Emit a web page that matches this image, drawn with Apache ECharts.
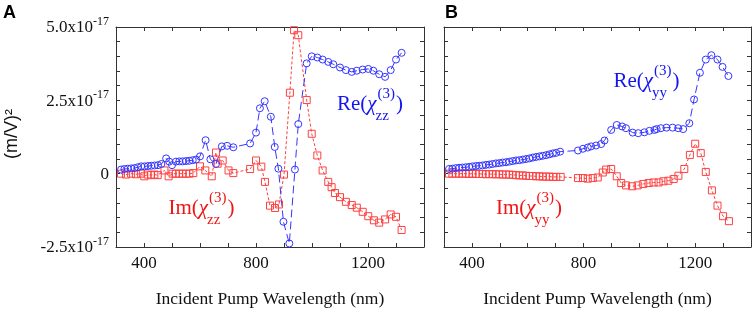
<!DOCTYPE html>
<html>
<head>
<meta charset="utf-8">
<script src="https://cdn.jsdelivr.net/npm/echarts@6/dist/echarts.min.js"></script>
<style>
  html, body { margin: 0; padding: 0; background: #fff; }
  #chart { width: 754px; height: 313px; }
</style>
</head>
<body>
<div id="chart"></div>
<script>
// values in units of 1e-17 (m/V)^2
const reZZ_x = [318, 330, 342, 354, 366, 378, 390, 402, 414, 426, 438, 450, 462, 479, 490, 500, 514, 526, 538, 550, 562, 574, 586, 600, 620, 637, 657, 678, 697, 719, 779, 800, 814, 831, 853, 867, 880, 898, 919, 939, 951, 981, 999, 1019, 1038, 1058, 1076, 1100, 1121, 1142, 1160, 1181, 1201, 1219, 1240, 1261, 1281, 1300, 1320];
const reZZ_y = [0.14, 0.16, 0.17, 0.18, 0.19, 0.22, 0.25, 0.25, 0.26, 0.27, 0.28, 0.29, 0.33, 0.52, 0.41, 0.29, 0.41, 0.42, 0.42, 0.43, 0.44, 0.46, 0.48, 0.59, 1.14, 0.49, 0.33, 0.93, 0.95, 0.90, 1.03, 1.40, 2.23, 2.47, 1.94, 0.91, 0.17, -1.64, -2.38, 0.14, 1.69, 3.76, 4.00, 3.96, 3.89, 3.81, 3.73, 3.62, 3.53, 3.47, 3.51, 3.55, 3.57, 3.51, 3.39, 3.30, 3.53, 3.89, 4.12];

const imZZ_x = [318, 336, 354, 371, 389, 401, 413, 425, 437, 449, 473, 488, 502, 514, 526, 538, 550, 562, 576, 600, 619, 642, 657, 663, 681, 702, 719, 779, 800, 819, 832, 850, 868, 882, 900, 921, 936, 951, 981, 999, 1019, 1038, 1058, 1070, 1082, 1100, 1121, 1142, 1160, 1181, 1201, 1221, 1240, 1261, 1281, 1300, 1320];
const imZZ_y = [0.00, -0.03, 0.00, -0.02, 0.00, -0.09, -0.03, -0.05, -0.03, -0.05, 0.11, -0.09, 0.00, 0.00, 0.00, 0.00, 0.00, 0.00, 0.02, 0.25, 0.11, -0.09, 0.72, 0.34, 0.45, 0.11, 0.02, 0.16, 0.45, 0.24, -0.28, -1.09, -1.17, -1.05, -0.03, 2.76, 4.89, 4.72, 2.51, 1.36, 0.62, 0.11, -0.28, -0.46, -0.66, -0.80, -0.96, -1.07, -1.16, -1.30, -1.45, -1.59, -1.67, -1.56, -1.39, -1.47, -1.92];

const reYY_x = [318, 330, 342, 354, 366, 378, 390, 402, 414, 426, 438, 450, 462, 474, 486, 498, 510, 522, 534, 546, 558, 570, 582, 594, 606, 618, 630, 642, 654, 666, 678, 690, 702, 716, 780, 798, 815, 827, 845, 863, 875, 899, 919, 938, 952, 976, 996, 1018, 1036, 1054, 1062, 1077, 1097, 1119, 1139, 1157, 1179, 1196, 1217, 1238, 1258, 1280, 1298, 1319];
const reYY_y = [0.16, 0.17, 0.19, 0.20, 0.21, 0.22, 0.23, 0.25, 0.26, 0.27, 0.28, 0.30, 0.31, 0.33, 0.35, 0.36, 0.38, 0.39, 0.41, 0.43, 0.45, 0.46, 0.48, 0.50, 0.52, 0.55, 0.57, 0.59, 0.61, 0.63, 0.66, 0.69, 0.71, 0.75, 0.79, 0.85, 0.89, 0.93, 0.96, 1.01, 1.13, 1.49, 1.66, 1.61, 1.55, 1.40, 1.38, 1.41, 1.46, 1.49, 1.52, 1.55, 1.57, 1.57, 1.55, 1.52, 1.72, 2.53, 3.44, 3.89, 4.04, 3.89, 3.64, 3.33];

const imYY_x = [318, 330, 342, 354, 366, 378, 390, 402, 414, 426, 438, 450, 462, 474, 486, 498, 510, 522, 534, 546, 558, 570, 582, 594, 606, 618, 630, 642, 654, 666, 678, 690, 702, 718, 780, 798, 815, 833, 851, 869, 881, 899, 919, 935, 952, 974, 994, 1014, 1033, 1051, 1069, 1086, 1104, 1123, 1140, 1161, 1181, 1200, 1220, 1238, 1260, 1280, 1300, 1321];
const imYY_y = [0.00, 0.00, 0.00, 0.00, 0.00, 0.00, -0.01, 0.00, -0.01, -0.01, -0.01, -0.02, -0.01, -0.02, -0.02, -0.02, -0.03, -0.03, -0.03, -0.04, -0.05, -0.06, -0.06, -0.07, -0.08, -0.08, -0.09, -0.09, -0.10, -0.10, -0.10, -0.11, -0.11, -0.11, -0.15, -0.15, -0.17, -0.15, -0.13, 0.04, 0.14, 0.16, -0.09, -0.32, -0.40, -0.43, -0.40, -0.35, -0.32, -0.30, -0.30, -0.26, -0.24, -0.18, -0.07, 0.16, 0.64, 1.02, 0.70, 0.06, -0.57, -1.09, -1.45, -1.62];

const xTickLabels = [400, 800, 1200];
const yTickLabels = [-2.5, 0, 2.5, 5.0];

const BLUE = '#3535ff';
const RED = '#ff4040';
const SERIF = '"Liberation Serif", "Times New Roman", serif';
const SANS = '"Liberation Sans", Arial, sans-serif';
const AXIS = '#333';

const chart = echarts.init(document.getElementById('chart'));

function lineSeries(xs, ys, idx, color, symbol, dash) {
  return {
    type: 'line',
    xAxisIndex: idx * 2,
    yAxisIndex: idx * 2,
    data: xs.map((x, i) => [x, ys[i]]),
    symbol: symbol,
    symbolSize: 7,
    lineStyle: { color: color, width: 1, type: dash },
    itemStyle: { color: 'rgba(0,0,0,0)', borderColor: color, borderWidth: 1 },
    emphasis: { disabled: true },
    animation: false,
  };
}

function xAxes(grid) {
  const base = {
    type: 'value', gridIndex: grid, min: 300, max: 1400, interval: 100,
    axisLine: { onZero: false, lineStyle: { color: AXIS, width: 1 } },
    axisTick: { inside: true, length: 4, lineStyle: { color: AXIS } },
    splitLine: { show: false },
  };
  return [
    Object.assign({}, base, {
      position: 'bottom',
      axisLabel: {
        formatter: (v) => (xTickLabels.includes(v) ? String(v) : ''),
        fontFamily: SERIF, fontSize: 17, color: '#111', margin: 8,
      },
      name: 'Incident Pump Wavelength (nm)',
      nameLocation: 'middle',
      nameGap: 43,
      nameTextStyle: { fontFamily: SERIF, fontSize: 17.5, color: '#111' },
    }),
    Object.assign({}, base, { position: 'top', axisLabel: { show: false } }),
  ];
}

function yAxes(grid, labels) {
  const base = {
    type: 'value', gridIndex: grid, min: -2.5, max: 5, interval: 0.5,
    axisLine: { show: true, onZero: false, lineStyle: { color: AXIS, width: 1 } },
    axisTick: { show: true, inside: true, length: 4, lineStyle: { color: AXIS } },
    splitLine: { show: false },
  };
  return [
    Object.assign({}, base, {
      position: 'left',
      axisLabel: {
        show: labels,
        margin: 7,
        formatter: (v) => {
          if (!yTickLabels.some((t) => Math.abs(t - v) < 1e-9)) return '';
          if (Math.abs(v) < 1e-9) return '{a|0}';
          return '{a|' + v.toFixed(1) + 'x10}{b|-17}';
        },
        rich: {
          a: { fontFamily: SERIF, fontSize: 17, color: '#111', verticalAlign: 'bottom', lineHeight: 19 },
          b: { fontFamily: SERIF, fontSize: 12, color: '#111', verticalAlign: 'bottom', lineHeight: 13, padding: [0, 0, 9, 0] },
        },
      },
    }),
    Object.assign({}, base, { position: 'right', axisLabel: { show: false } }),
  ];
}

// chi label: head(χ with stacked superscript/subscript, then ")"
const measureCtx = document.createElement('canvas').getContext('2d');
function textWidth(t, font) {
  measureCtx.font = font;
  return measureCtx.measureText(t).width;
}
function chiLabel(x, y, color, head, sub) {
  const fMain = '21px ' + SERIF;
  const fChi = 'italic 21px ' + SERIF;
  const fSmall = '15px ' + SERIF;
  const w1 = textWidth(head + '(', fMain);
  const w2 = textWidth('χ', fChi);
  const wSup = textWidth('(3)', fSmall);
  const wSub = textWidth(sub, fSmall);
  const xs = x + w1 + w2 + 1;
  const t = (tx, ty, text, font) => ({
    type: 'text', x: tx, y: ty, silent: true,
    style: { text: text, font: font, fill: color, textAlign: 'left', textVerticalAlign: 'middle' },
  });
  return [
    t(x, y, head + '(', fMain),
    t(x + w1, y, 'χ', fChi),
    t(xs, y - 10, '(3)', fSmall),
    t(xs - 2, y + 12, sub, fSmall),
    t(xs + Math.max(wSup, wSub) + 1, y, ')', fMain),
  ];
}

const graphics = [
  { type: 'text', x: 3, y: 13, style: { text: 'A', font: 'bold 18px ' + SANS, fill: '#000', textVerticalAlign: 'middle' } },
  { type: 'text', x: 445, y: 13, style: { text: 'B', font: 'bold 18px ' + SANS, fill: '#000', textVerticalAlign: 'middle' } },
  { type: 'text', x: 12, y: 134, rotation: Math.PI / 2,
    style: { text: '(m/V)²', font: '18px ' + SANS, fill: '#111', textAlign: 'center', textVerticalAlign: 'middle' } },
].concat(
  chiLabel(337, 104, '#1515f0', 'Re', 'zz'),
  chiLabel(168.5, 208, '#f01515', 'Im', 'zz'),
  chiLabel(613.5, 81, '#1515f0', 'Re', 'yy'),
  chiLabel(496, 208, '#f01515', 'Im', 'yy')
);

chart.setOption({
  animation: false,
  grid: [
    { left: 116, top: 27, width: 308, height: 221 },
    { left: 444, top: 27, width: 308, height: 221 },
  ],
  xAxis: xAxes(0).concat(xAxes(1)),
  yAxis: yAxes(0, true).concat(yAxes(1, false)),
  series: [
    lineSeries(imZZ_x, imZZ_y, 0, RED, 'rect', [3, 2]),
    lineSeries(reZZ_x, reZZ_y, 0, BLUE, 'circle', [8, 4]),
    lineSeries(imYY_x, imYY_y, 1, RED, 'rect', [3, 2]),
    lineSeries(reYY_x, reYY_y, 1, BLUE, 'circle', [8, 4]),
  ],
  graphic: graphics,
});
</script>
</body>
</html>
